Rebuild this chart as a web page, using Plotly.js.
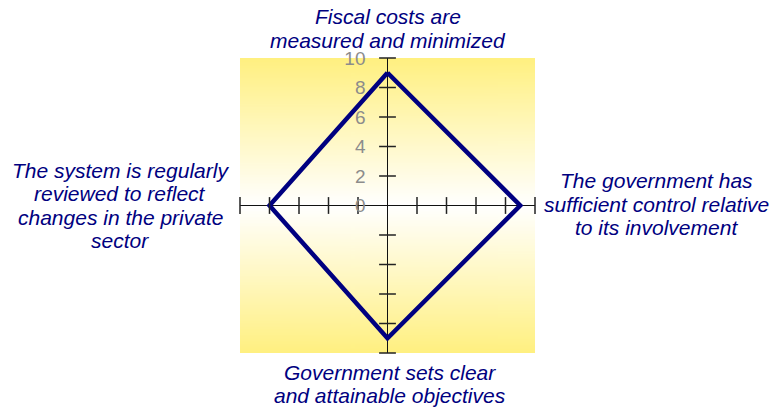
<!DOCTYPE html>
<html>
<head>
<meta charset="utf-8">
<script src="https://cdn.plot.ly/plotly-3.0.1.min.js"></script>
<style>
  html, body { margin: 0; padding: 0; background: #fff; }
  #plot { width: 776px; height: 409px; }
</style>
</head>
<body>
<div id="plot"></div>
<script>
// criteria, clockwise from the top
const criteria = [
    ['Fiscal costs are', 'measured and minimized'],
    ['The government has', 'sufficient control relative', 'to its involvement'],
    ['Government sets clear', 'and attainable objectives'],
    ['The system is regularly', 'reviewed to reflect', 'changes in the private', 'sector']
];
const scores = [9, 9, 9, 8];
const scaleTicks = [0, 2, 4, 6, 8, 10];
const crossTicks = [-10, -8, -6, -4, -2, 2, 4, 6, 8, 10];

const navy = '#000080';

// radar points: angle 0 at top, going clockwise
const px = [];
const py = [];
for (let i = 0; i <= scores.length; i++) {
    const k = i % scores.length;
    const ang = k * 2 * Math.PI / scores.length;
    px.push(+(scores[k] * Math.sin(ang)).toFixed(6));
    py.push(+(scores[k] * Math.cos(ang)).toFixed(6));
}

// little tick marks across both axis lines
const tickH = {
    x: crossTicks, y: crossTicks.map(() => 0),
    type: 'scatter', mode: 'markers', cliponaxis: false, hoverinfo: 'skip',
    marker: { symbol: 'line-ns', size: 12, line: { width: 1.5, color: '#222' } }
};
const tickV = {
    x: crossTicks.map(() => 0), y: crossTicks,
    type: 'scatter', mode: 'markers', cliponaxis: false, hoverinfo: 'skip',
    marker: { symbol: 'line-ew', size: 12, line: { width: 1.5, color: '#222' } }
};
const radar = {
    x: px, y: py,
    type: 'scatter', mode: 'lines', cliponaxis: false,
    line: { color: navy, width: 4.5 }
};

// yellow-white-yellow background
const cv = document.createElement('canvas');
cv.width = 4; cv.height = 200;
const ctx = cv.getContext('2d');
const grad = ctx.createLinearGradient(0, 0, 0, 200);
grad.addColorStop(0, '#FFF080');
grad.addColorStop(0.5, '#FFFFFF');
grad.addColorStop(1, '#FFF080');
ctx.fillStyle = grad;
ctx.fillRect(0, 0, 4, 200);

// one annotation per text line, so the line spacing can be kept tight
const labelFont = { family: 'Liberation Sans, Arial, sans-serif', size: 21, color: navy, style: 'italic' };
const lineGap = 23.6;
const spots = [
    { x: 0, y: 10, dx: 0, dy: 0, mode: 'above', gap: 18 },
    { x: 10, y: 0, dx: 121, dy: -1.5, mode: 'mid' },
    { x: 0, y: -10, dx: 2, dy: 0, mode: 'below', gap: 19 },
    { x: -10, y: 0, dx: -120, dy: 0, mode: 'mid' }
];
const annots = [];
criteria.forEach((lines, i) => {
    const s = spots[i];
    const n = lines.length;
    lines.forEach((t, j) => {
        let off;
        if (s.mode === 'above') off = -(s.gap + (n - 1 - j) * lineGap);
        else if (s.mode === 'below') off = s.gap + j * lineGap;
        else off = s.dy + (j - (n - 1) / 2) * lineGap;
        annots.push({
            text: t, xref: 'x', yref: 'y', x: s.x, y: s.y,
            xanchor: 'center', yanchor: 'middle',
            xshift: s.dx, yshift: -off,
            showarrow: false, font: labelFont
        });
    });
});

const layout = {
    width: 776, height: 409,
    margin: { l: 240, r: 241, t: 58, b: 56 },
    paper_bgcolor: '#fff',
    plot_bgcolor: 'rgba(0,0,0,0)',
    showlegend: false,
    xaxis: {
        range: [-10, 10], showgrid: false, showticklabels: false, ticks: '',
        zeroline: true, zerolinecolor: '#111', zerolinewidth: 1.5, fixedrange: true
    },
    yaxis: {
        range: [-10, 10], showgrid: false, ticks: '',
        zeroline: true, zerolinecolor: '#111', zerolinewidth: 1.5,
        anchor: 'free', position: 0.5, showline: false,
        tickvals: scaleTicks, ticktext: scaleTicks.map(String),
        ticklabelstandoff: 22,
        tickfont: { family: 'Liberation Sans, Arial, sans-serif', size: 19, color: '#8c8c8c' }
    },
    images: [{
        source: cv.toDataURL(), xref: 'x', yref: 'y',
        x: -10, y: 10, sizex: 20, sizey: 20,
        sizing: 'stretch', layer: 'below'
    }],
    annotations: annots
};

Plotly.newPlot('plot', [radar, tickH, tickV], layout, { displayModeBar: false, staticPlot: true });
</script>
</body>
</html>
